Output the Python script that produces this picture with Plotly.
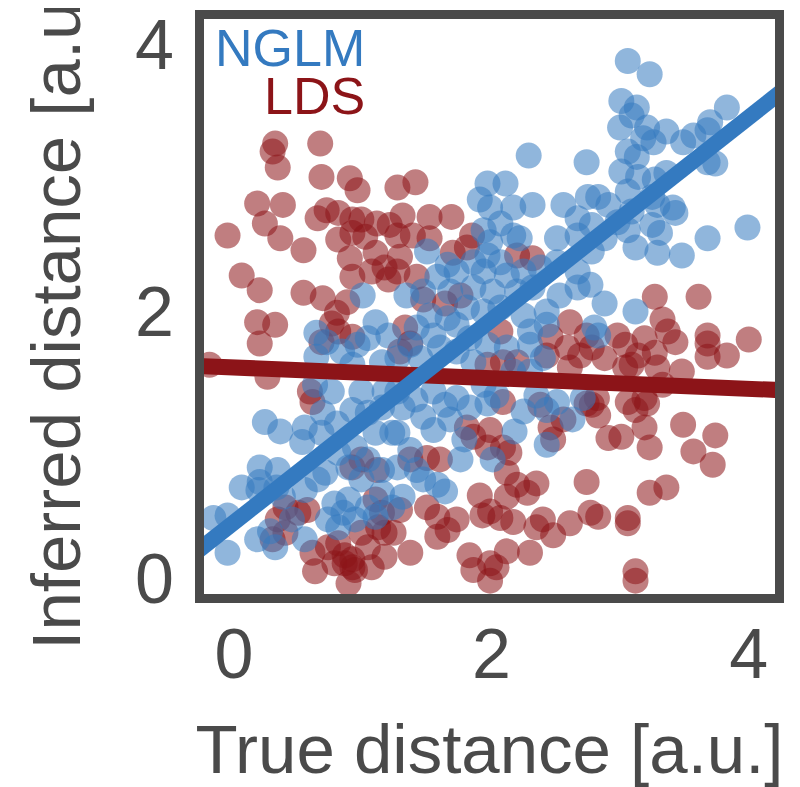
import plotly.graph_objects as go

# ---- data ----
lds_x = [0.32,0.30,0.34,0.67,0.68,0.90,0.96,1.27,1.41,0.18,0.38,
         -0.05,0.24,0.36,0.54,0.65,0.72,0.81,0.92,0.99,0.81,0.92,1.02,1.11,1.21,
         0.90,1.10,1.17,1.07,0.92,1.20,0.06,0.20,0.54,0.69,0.88,0.80,0.76,0.81,
         0.18,0.32,0.20,0.68,-0.19,0.26,0.92,0.59,
         1.52,1.69,1.31,
         1.27,1.39,1.52,1.29,1.27,1.42,1.70,1.81,1.85,1.76,1.64,1.47,1.33,1.37,1.29,
         2.07,2.20,2.32,2.61,2.46,2.59,2.69,2.43,2.20,2.09,2.61,2.74,1.97,
         3.27,3.61,3.33,3.37,3.43,3.68,3.68,4.00,3.83,3.68,2.98,3.04,3.19,3.14,3.27,
         3.09,2.88,2.78,3.04,3.29,3.48,3.33,2.82,3.06,3.19,
         0.61,0.92,1.11,0.99,0.40,0.34,0.57,0.50,0.30,0.40,0.61,0.63,0.73,0.81,
         0.92,0.92,0.86,1.04,1.07,0.89,1.17,1.12,0.99,1.17,0.78,1.10,1.15,0.86,0.94,
         2.09,2.38,2.74,1.81,1.86,1.99,1.97,2.09,2.14,2.46,2.56,2.48,1.60,1.50,1.37,
         2.12,2.20,2.35,2.28,1.91,2.12,2.74,1.29,1.50,1.58,1.73,1.66,1.58,1.93,1.99,
         2.07,2.17,2.35,2.40,2.61,2.48,2.77,1.24,1.37,1.83,1.99,2.12,2.30,1.86,1.99,2.04,
         2.78,2.83,3.12,3.21,2.91,3.01,3.19,3.23,3.49,3.74,3.57,3.72,3.23,3.36,
         2.83,3.06,3.06,3.12,3.12]
lds_y = [3.26,3.20,3.08,3.26,3.01,3.00,2.91,2.93,2.97,2.81,2.80,
         2.57,2.66,2.55,2.46,2.70,2.76,2.74,2.69,2.69,2.54,2.59,2.56,2.66,2.65,
         2.40,2.44,2.33,2.30,2.26,2.24,2.27,2.16,2.14,2.10,2.07,1.99,1.91,1.85,
         1.92,1.90,1.76,1.77,1.60,1.51,1.81,1.40,
         2.71,2.71,2.72,
         2.57,2.57,2.55,2.41,2.30,2.26,2.44,2.48,2.57,2.12,2.06,2.09,1.88,1.76,1.70,
         1.85,2.42,2.40,1.92,1.81,1.73,1.67,1.67,1.62,1.62,1.58,1.82,1.60,
         2.11,2.11,1.94,1.85,1.77,1.82,1.76,1.79,1.67,1.66,1.82,1.75,1.80,1.67,1.69,
         1.60,1.65,1.73,1.58,1.58,1.55,1.45,1.35,1.32,1.35,
         1.32,0.83,0.81,0.89,0.53,0.44,0.51,0.49,0.29,0.34,0.19,0.05,0.23,0.26,
         0.14,0.08,0.11,0.23,0.08,-0.04,0.34,0.38,0.34,0.16,0.11,0.59,0.49,0.17,0.06,
         1.32,1.30,1.31,1.13,1.06,1.11,0.98,0.98,0.94,1.13,1.19,1.04,0.89,0.90,0.89,
         0.79,0.70,0.71,0.64,0.62,0.61,0.72,0.51,0.53,0.46,0.44,0.36,0.31,0.47,0.50,
         0.45,0.42,0.38,0.44,0.41,0.32,0.49,0.34,0.19,0.17,0.11,0.20,0.19,0.06,-0.02,0.08,
         1.30,1.22,1.26,1.31,1.05,1.06,1.13,0.98,1.15,1.07,0.95,0.85,0.64,0.68,
         0.46,0.45,0.41,0.05,-0.02]

nglm_x = [2.29,2.74,1.97,2.11,1.91,1.99,2.17,2.32,2.56,2.75,
          3.06,3.23,3.01,3.13,3.09,3.00,3.21,3.36,3.18,3.26,3.49,3.57,3.68,3.83,3.70,
          3.74,3.68,3.06,3.13,3.01,3.14,3.36,3.27,3.06,3.25,2.83,2.91,3.41,3.29,
          3.43,3.09,2.98,3.06,3.25,3.31,3.12,3.29,3.48,3.68,3.99,2.88,2.78,2.77,2.88,
          3.12,2.80,2.83,2.78,
          1.00,1.10,0.64,0.72,0.96,0.84,1.04,1.20,0.64,0.92,1.15,0.63,0.76,0.99,1.17,
          2.67,2.07,1.94,2.17,1.99,2.22,2.51,2.67,1.50,1.66,1.58,1.73,1.86,1.97,2.07,
          1.94,2.12,2.25,2.38,2.32,2.20,2.01,1.86,1.68,1.47,1.34,1.81,1.94,1.52,1.66,
          1.42,1.55,1.73,1.83,1.60,1.37,1.27,1.45,1.73,2.07,2.25,2.43,2.53,2.67,2.67,
          2.43,2.30,2.30,2.40,2.12,1.97,2.17,2.30,1.86,1.94,1.55,1.73,1.27,2.04,2.35,
          2.51,2.71,2.51,
          0.24,0.36,0.55,0.53,0.69,0.68,0.80,0.92,1.04,1.15,0.20,0.34,0.06,0.20,0.19,
          0.33,0.38,-0.16,-0.05,0.18,0.28,0.32,-0.05,0.55,0.65,0.71,0.78,0.89,0.85,
          0.73,0.81,0.94,1.04,1.10,0.94,0.81,0.89,1.04,1.15,0.99,1.15,1.23,1.23,1.10,
          0.55,0.45,
          2.25,2.43,2.63,2.43,2.18,2.01,1.76,1.64,1.58,1.47,1.31,1.42,1.55,1.68,1.37,
          1.27,1.31,1.27,1.47,1.83,1.97,1.41,1.64,1.79]
nglm_y = [3.17,3.12,2.96,2.96,2.84,2.78,2.78,2.80,2.80,2.86,
          3.88,3.78,3.58,3.53,3.47,3.38,3.38,3.35,3.30,3.27,3.27,3.32,3.36,3.53,3.42,
          3.11,3.12,3.20,3.16,3.05,3.01,3.04,2.99,2.90,2.86,2.86,2.80,2.78,2.80,
          2.74,2.75,2.67,2.61,2.65,2.59,2.48,2.44,2.42,2.55,2.63,2.55,2.45,2.20,2.06,
          2.00,1.88,1.82,2.65,
          2.12,1.92,1.84,1.77,1.75,1.70,1.80,1.82,1.66,1.60,1.62,1.45,1.40,1.40,1.40,
          2.70,2.66,2.61,2.57,2.52,2.55,2.55,2.57,2.45,2.35,2.26,2.30,2.37,2.42,2.37,
          2.30,2.27,2.30,2.33,2.18,2.15,2.15,2.18,2.15,2.15,2.12,2.03,2.00,1.97,1.95,
          1.88,1.82,1.90,1.80,1.73,1.75,1.65,1.65,1.70,2.03,1.97,2.00,2.12,2.18,2.30,
          1.90,1.85,1.75,1.65,1.73,1.75,1.55,1.55,1.62,1.45,1.40,1.35,1.40,1.37,1.37,
          1.32,1.35,2.37,
          1.17,1.10,1.13,1.02,1.24,1.09,1.16,1.26,1.24,1.28,0.83,0.81,0.68,0.72,0.66,
          0.68,0.61,0.45,0.47,0.29,0.35,0.23,0.19,0.66,0.74,0.79,0.56,0.59,0.49,
          0.44,0.38,0.44,0.53,0.46,0.98,0.94,0.83,0.89,0.81,0.74,0.64,0.53,1.09,1.09,
          0.29,0.44,
          1.25,1.26,1.19,1.00,1.10,0.89,0.89,0.65,0.70,0.74,0.61,0.81,1.11,1.19,0.96,
          0.83,1.28,1.09,1.21,1.28,1.31,1.34,1.30,1.04]

# linear fits (intercept, slope)
nglm_fit = (0.417, 0.76)
lds_fit = (1.58, -0.04)
fit_x = [-0.5, 4.5]

x_ticks = [0, 2, 4]
y_ticks = [0, 2, 4]

BLUE = "rgb(52,122,192)"
RED = "rgb(140,20,24)"
GREY = "#4a4a4a"
FONT = "Liberation Sans, Arial, Helvetica, sans-serif"

fig = go.Figure()
fig.add_trace(go.Scatter(x=lds_x, y=lds_y, mode="markers",
                         marker=dict(size=26, color=RED, opacity=0.55, line=dict(width=0)),
                         showlegend=False, cliponaxis=True))
fig.add_trace(go.Scatter(x=nglm_x, y=nglm_y, mode="markers",
                         marker=dict(size=26, color=BLUE, opacity=0.55, line=dict(width=0)),
                         showlegend=False, cliponaxis=True))
fig.add_trace(go.Scatter(x=fit_x, y=[lds_fit[0] + lds_fit[1] * v for v in fit_x],
                         mode="lines", line=dict(color=RED, width=16), showlegend=False))
fig.add_trace(go.Scatter(x=fit_x, y=[nglm_fit[0] + nglm_fit[1] * v for v in fit_x],
                         mode="lines", line=dict(color=BLUE, width=16), showlegend=False))

fig.add_annotation(text="NGLM", xref="paper", yref="paper", x=0.2855, y=0.9487,
                   xanchor="right", yanchor="middle", showarrow=False,
                   font=dict(family=FONT, size=52, color=BLUE))
fig.add_annotation(text="LDS", xref="paper", yref="paper", x=0.2855, y=0.8656,
                   xanchor="right", yanchor="middle", showarrow=False,
                   font=dict(family=FONT, size=52, color=RED))

fig.update_layout(
    width=800, height=787,
    margin=dict(l=196, r=33, t=11, b=201, pad=0, autoexpand=False),
    paper_bgcolor="white", plot_bgcolor="white",
    font=dict(family=FONT, color=GREY),
)
fig.update_xaxes(range=[-0.233, 4.204], tickvals=x_ticks, ticks="", showgrid=False,
                 zeroline=False, showline=True, linewidth=9, linecolor=GREY, mirror=True,
                 automargin=False, ticklabeloverflow="allow",
                 tickfont=dict(size=70, color=GREY), ticklabelstandoff=-9,
                 title=dict(text="True distance [a.u.]", font=dict(size=69, color=GREY), standoff=36))
fig.update_yaxes(range=[-0.12, 4.195], tickvals=y_ticks, ticks="", showgrid=False,
                 zeroline=False, showline=True, linewidth=9, linecolor=GREY, mirror=True,
                 automargin=False, ticklabeloverflow="allow",
                 tickfont=dict(size=70, color=GREY), ticklabelstandoff=7,
                 title=dict(text="Inferred distance [a.u.]", font=dict(size=69, color=GREY), standoff=35))

fig.write_html("out.html")
